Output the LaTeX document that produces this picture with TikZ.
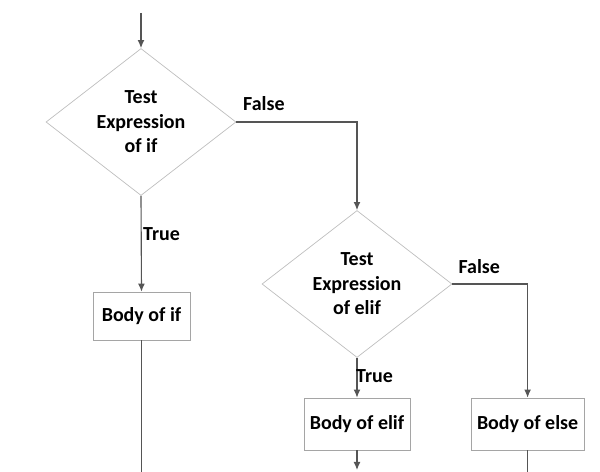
\documentclass[tikz,border=0pt]{standalone}
\usepackage{fontspec}
\setmainfont{Carlito}
\usetikzlibrary{shapes.geometric, arrows.meta}
\definecolor{flowline}{RGB}{85, 85, 85}
\definecolor{diamondgray}{RGB}{190, 190, 190}
\definecolor{boxgray}{RGB}{165, 165, 165}
\tikzstyle{flow_test}=[diamond, draw=diamondgray, line width=0.5pt, align=center, inner sep=0pt,
    minimum width=4.75cm, minimum height=3.675cm, shape aspect=1.29,
    font=\fontsize{14.2}{17.4}\selectfont\bfseries]
\tikzstyle{flow_body}=[rectangle, draw=boxgray, line width=0.5pt, text=black, text centered,
    minimum height=1.25cm, font=\fontsize{14.2}{17.4}\selectfont\bfseries]
\tikzstyle{flow_label}=[inner sep=1pt, font=\fontsize{14.2}{17.4}\selectfont\bfseries]
\tikzstyle{flow_arrow}=[draw=flowline, line width=0.8pt, -{Latex[length=0.2cm, width=0.17cm]}]
\tikzstyle{flow_line}=[draw=flowline, line width=0.8pt]

\begin{document}
\begin{tikzpicture}
  \useasboundingbox (0,0) rectangle (15,11.8);

  % Test nodes (diamonds)
  \node[flow_test] (testif) at (3.525,8.75) {Test\\Expression\\of if};
  \node[flow_test] (testelif) at (8.925,4.7) {Test\\Expression\\of elif};

  % Bodies
  \node[flow_body, minimum width=2.425cm, minimum height=1.2cm] (bodyif) at (3.5375,3.9) {Body of if};
  \node[flow_body, minimum width=2.65cm, minimum height=1.3cm] (bodyelif) at (8.925,1.2) {Body of elif};
  \node[flow_body, minimum width=2.825cm, minimum height=1.3cm] (bodyelse) at (13.19,1.2) {Body of else};

  % Entry and loose ends at the bottom edge
  \coordinate (start) at (3.525,11.475);
  \coordinate (ifend) at (3.5375,0);
  \coordinate (elifend) at (8.925,0);
  \coordinate (elseend) at (13.19,0);

  % Connectors
  \draw[flow_arrow] (start) -- (testif.north);
  \draw[flow_arrow] (testif.south) -- node[flow_label, right, pos=0.4] {True} (bodyif.north);
  \draw[flow_arrow] (testif.east) -- node[flow_label, above right, pos=0.0, xshift=3.5pt, yshift=6.5pt] {False} (testif.east -| testelif.north) -- (testelif.north);
  \draw[flow_arrow] (testelif.south) -- node[flow_label, right, pos=0.45, xshift=-2pt] {True} (bodyelif.north);
  \draw[flow_arrow] (testelif.east) -- node[flow_label, above right, pos=0.0, xshift=3pt, yshift=6pt] {False} (testelif.east -| bodyelse.north) -- (bodyelse.north);
  \draw[flow_line] (bodyif.south) -- (ifend);
  \draw[flow_arrow] (bodyelif.south) -- ([yshift=0.05cm]elifend);
  \draw[flow_line] (bodyelse.south) -- (elseend);

\end{tikzpicture}
\end{document}
